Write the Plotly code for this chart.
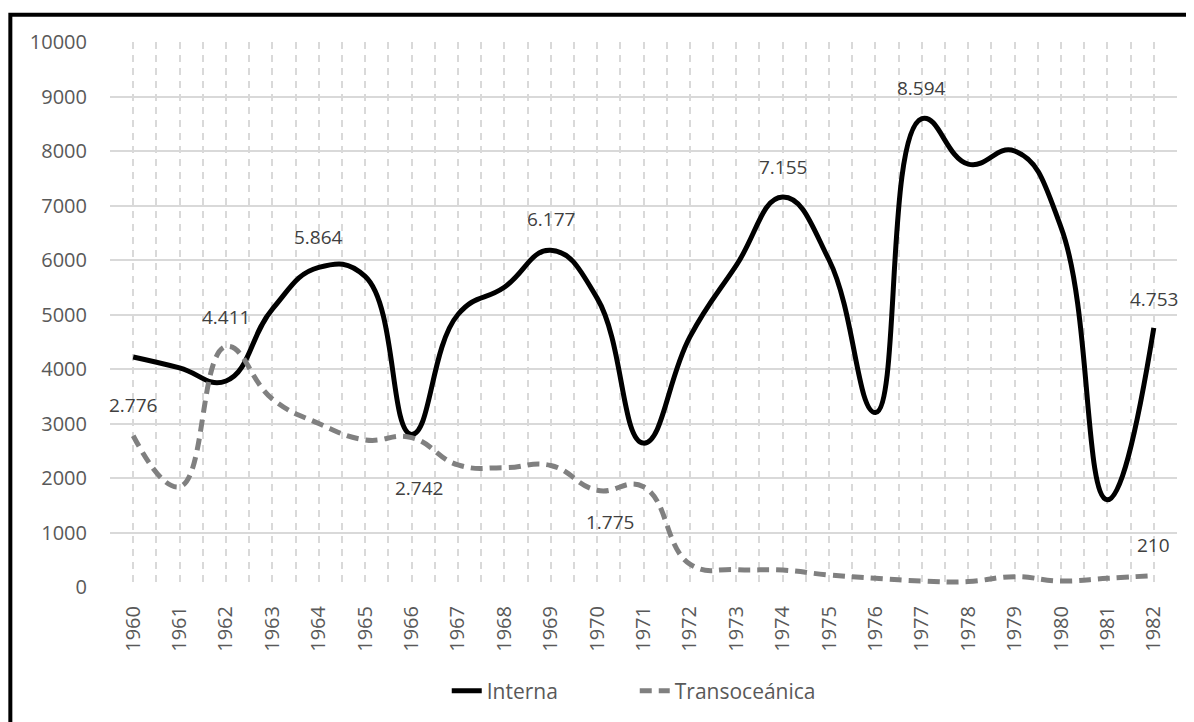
import plotly.graph_objects as go

years = list(range(1960, 1983))
interna = [4220, 4020, 3780, 5100, 5864, 5700, 2800, 5000, 5500, 6177, 5300, 2640,
           4590, 5900, 7155, 6000, 3200, 8594, 7760, 8000, 6600, 1600, 4753]
transoceanica = [2776, 1840, 4411, 3450, 3000, 2700, 2742, 2240, 2190, 2230, 1775, 1840,
                 420, 320, 310, 220, 160, 110, 100, 190, 110, 160, 210]
y_ticks = [0, 1000, 2000, 3000, 4000, 5000, 6000, 7000, 8000, 9000, 10000]

# labelled points (year -> (xshift, yshift) in px)
interna_labels = {1964: (0, 30), 1969: (0, 31), 1974: (0, 30), 1977: (0, 31), 1982: (0, 29)}
trans_labels = {1960: (0, 31), 1962: (0, 30), 1966: (7, -50), 1970: (13, -32), 1982: (0, 31)}

FONT = "Open Sans"
fig = go.Figure()
fig.add_trace(go.Scatter(
    x=years, y=interna, name="Interna", mode="lines",
    line=dict(color="#000000", width=5, shape="spline", smoothing=1.3),
))
fig.add_trace(go.Scatter(
    x=years, y=transoceanica, name="Transoceánica", mode="lines",
    line=dict(color="#808080", width=5, shape="spline", smoothing=1.3, dash="12px,7px"),
))

def fmt(v):
    return f"{v:,}".replace(",", ".")

annotations = []
for series, labels in ((interna, interna_labels), (transoceanica, trans_labels)):
    for yr, (dx, dy) in labels.items():
        v = series[years.index(yr)]
        annotations.append(dict(
            x=yr, y=v, xref="x", yref="y", text=fmt(v), showarrow=False,
            xshift=dx, yshift=dy, font=dict(family=FONT, size=19, color="#404040"),
        ))

grid_c = "#d9d9d9"
fig.update_layout(
    width=1194, height=722,
    margin=dict(l=102, r=25, t=34, b=143),
    paper_bgcolor="white", plot_bgcolor="white",
    showlegend=True,
    legend=dict(orientation="h", x=0.3156, xanchor="left", y=-0.1908, yanchor="middle",
                font=dict(family=FONT, size=21, color="#595959"),
                entrywidth=143, entrywidthmode="pixels",
                traceorder="normal"),
    annotations=annotations,
    shapes=[dict(type="rect", xref="paper", yref="paper",
                 x0=-0.0934, x1=1.3, y0=-0.6, y1=1.0501,
                 line=dict(color="black", width=4), fillcolor="rgba(0,0,0,0)", layer="above")],
    xaxis=dict(
        type="linear", range=[years[0] - 0.5, years[-1] + 0.5],
        tickmode="array", tickvals=years, ticktext=[str(y) for y in years],
        tickangle=-90, ticks="", ticklabelstandoff=14,
        tickfont=dict(family=FONT, size=20, color="#595959"),
        showgrid=True, gridcolor=grid_c, gridwidth=1.5, griddash="7px,6px",
        minor=dict(tickmode="array", tickvals=[y + 0.5 for y in [years[0] - 1] + years],
                   showgrid=True, gridcolor=grid_c, gridwidth=1.5, griddash="7px,6px"),
        showline=False, zeroline=False, fixedrange=True,
    ),
    yaxis=dict(
        range=[0, 10000], tickmode="array", tickvals=y_ticks,
        ticktext=[str(v) for v in y_ticks], ticks="", ticklabelstandoff=22,
        tickfont=dict(family=FONT, size=20, color="#595959"),
        showgrid=True, gridcolor=grid_c, gridwidth=1.5,
        showline=False, zeroline=False, fixedrange=True,
    ),
)
fig.write_html("out.html")
